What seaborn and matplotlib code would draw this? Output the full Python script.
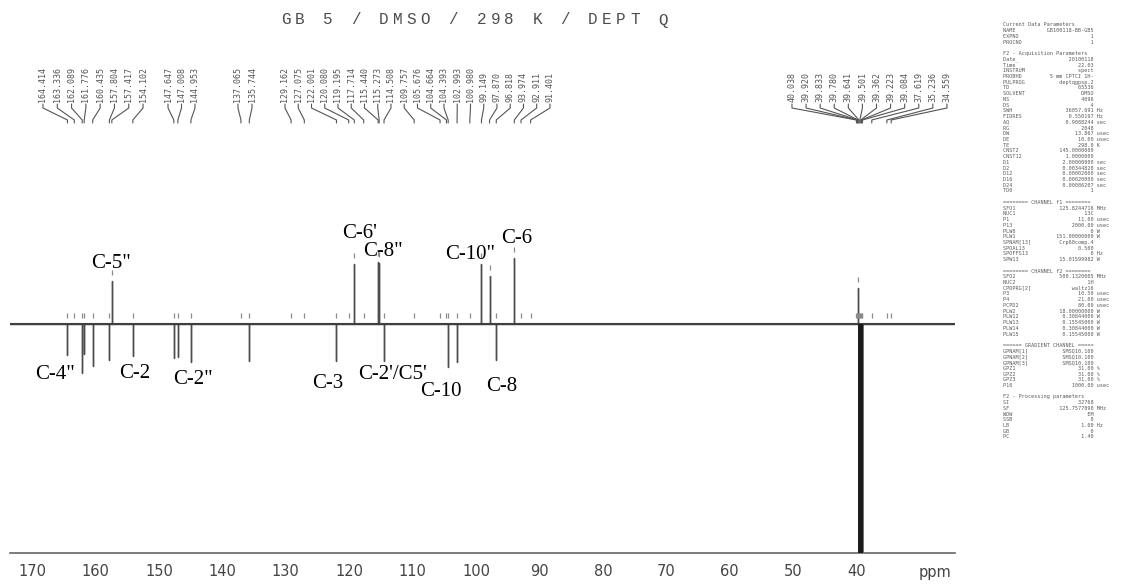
import numpy as np
import matplotlib
matplotlib.use('Agg')
import matplotlib.pyplot as plt
import seaborn as sns

sns.set_style('white')
plt.rcParams['font.family'] = ['DejaVu Sans']

# === Data: peak picking list (ppm) printed above the spectrum ===
peak_list = [164.414, 163.336, 162.089, 161.776, 160.435, 157.804, 157.417, 154.102,
             147.647, 147.008, 144.953,
             137.065, 135.744,
             129.162, 127.075, 122.001, 120.080, 119.195, 117.714, 115.440, 115.273,
             114.508, 109.757, 105.676, 104.664, 104.393, 102.993, 100.980, 99.149,
             97.870, 96.818, 93.974, 92.911, 91.401,
             40.038, 39.920, 39.833, 39.780, 39.641, 39.501, 39.362, 39.223, 39.084,
             37.619, 35.236, 34.559]
# signal intensity (up = CH/CH3, down = C/CH2, 0 = picked only)
peak_height = [-31, 0, -49, -30, -42, -36, 43, -32,
               -34, -33, -38,
               0, -37,
               0, 0, -37, 0, 60, 0, 62, 61,
               -37, 0, 0, 0, -43, -38, 0, 60,
               48, -36, 66, 0, 0,
               0, 0, 0, 36, -229, -229, -229, -229, -229,
               0, 0, 0]
label_groups = [8, 3, 2, 21, 12]
label_group_span = [(168.27, 152.50), (148.56, 144.31), (137.53, 135.32),
                    (130.12, 88.35), (50.20, 25.77)]

# carbon assignments
carbon_names = ['C-5"', 'C-4"', 'C-2', 'C-2"', 'C-3', "C-2'/C5'", 'C-10', 'C-8',
                "C-6'", 'C-8"', 'C-10"', 'C-6']
carbon_ppm = [157.55, 166.3, 153.76, 144.62, 123.42, 113.18, 105.56, 95.96,
              118.30, 114.63, 100.96, 93.6]
carbon_y = [56, -55, -54, -60, -64, -55, -72, -67, 86, 68, 65, 81]

ppm_ticks = np.arange(170, 29, -10)
title = 'GB 5 / DMSO / 298 K / DEPT Q'

params = [
    'Current Data Parameters', ('NAME', 'GB100118-BB-GB5', ''), ('EXPNO', '1', ''),
    ('PROCNO', '1', ''), '',
    'F2 - Acquisition Parameters', ('Date_', '20100118', ''), ('Time', '22.03', ''),
    ('INSTRUM', 'spect', ''), ('PROBHD', '5 mm CPTCI 1H-', ''), ('PULPROG', 'deptqgpsp.2', ''),
    ('TD', '65536', ''), ('SOLVENT', 'DMSO', ''), ('NS', '4096', ''), ('DS', '4', ''),
    ('SWH', '36057.691', 'Hz'), ('FIDRES', '0.550197', 'Hz'), ('AQ', '0.9088244', 'sec'),
    ('RG', '2048', ''), ('DW', '13.867', 'usec'), ('DE', '10.00', 'usec'),
    ('TE', '298.0', 'K'), ('CNST2', '145.0000000', ''), ('CNST12', '1.0000000', ''),
    ('D1', '2.00000000', 'sec'), ('D2', '0.00344828', 'sec'), ('D12', '0.00002000', 'sec'),
    ('D16', '0.00020000', 'sec'), ('D24', '0.00086207', 'sec'), ('TD0', '1', ''), '',
    '======== CHANNEL f1 ========', ('SFO1', '125.8244716', 'MHz'), ('NUC1', '13C', ''),
    ('P1', '11.00', 'usec'), ('P13', '2000.00', 'usec'), ('PLW0', '0', 'W'),
    ('PLW1', '151.00000000', 'W'), ('SPNAM[13]', 'Crp60comp.4', ''), ('SPOAL13', '0.500', ''),
    ('SPOFFS13', '0', 'Hz'), ('SPW13', '15.01599982', 'W'), '',
    '======== CHANNEL f2 ========', ('SFO2', '500.1320005', 'MHz'), ('NUC2', '1H', ''),
    ('CPDPRG[2]', 'waltz16', ''), ('P3', '10.50', 'usec'), ('P4', '21.00', 'usec'),
    ('PCPD2', '80.00', 'usec'), ('PLW2', '18.00000000', 'W'), ('PLW12', '0.30844000', 'W'),
    ('PLW13', '0.15545000', 'W'), ('PLW14', '0.30844000', 'W'), ('PLW15', '0.15545000', 'W'), '',
    '====== GRADIENT CHANNEL =====', ('GPNAM[1]', 'SMSQ10.100', ''), ('GPNAM[2]', 'SMSQ10.100', ''),
    ('GPNAM[3]', 'SMSQ10.100', ''), ('GPZ1', '31.00', '%'), ('GPZ2', '31.00', '%'),
    ('GPZ3', '31.00', '%'), ('P16', '1000.00', 'usec'), '',
    'F2 - Processing parameters', ('SI', '32768', ''), ('SF', '125.7577890', 'MHz'),
    ('WDW', 'EM', ''), ('SSB', '0', ''), ('LB', '1.00', 'Hz'), ('GB', '0', ''), ('PC', '1.40', ''),
]

# === Figure ===
W, H = 1139, 584
fig = plt.figure(figsize=(W / 100, H / 100), dpi=100)
ax = fig.add_axes([10 / W, 31 / H, 945 / W, 553 / H])
x_left, x_right = 173.47, 24.5

# spectrum trace: baseline with one stick per signal
xs, ys = [x_left], [0]
for p, h in sorted(zip(peak_list, peak_height), reverse=True):
    if h != 0:
        xs += [p, p, p]
        ys += [0, h, 0]
xs.append(x_right)
ys.append(0)
sns.lineplot(x=xs, y=ys, sort=False, estimator=None, color='#4d4d4d', lw=1.0, ax=ax)
ax.axhline(0, color='#3f3f3f', lw=1.5, zorder=3)

# solvent (DMSO-d6) signal drawn heavier, as in the scan
solv = [p for p, h in zip(peak_list, peak_height) if h < -100]
ax.vlines(solv, min(peak_height), 0, color='#1a1a1a', lw=1.4, zorder=4)

# peak picking markers
heights = np.array(peak_height)
mk = np.where(heights > 0, heights, 0) + 6
ax.vlines(peak_list, mk, mk + 5, color='#8a8a8a', lw=0.9)

# peak list labels and connectors
pos = 0
for n, (a, b) in zip(label_groups, label_group_span):
    for lx, p in zip(np.linspace(a, b, n), peak_list[pos:pos + n]):
        ax.text(lx, 222, f'{p:.3f}', rotation=90, ha='center', va='bottom',
                fontsize=6, family='DejaVu Sans Mono', color='#555555')
        ax.plot([lx, lx, p, p], [220, 216, 204, 201], color='#555555', lw=0.8)
    pos += n

# carbon assignments
for name, p, y in zip(carbon_names, carbon_ppm, carbon_y):
    ax.text(p, y, name, ha='center', va='baseline', fontsize=15,
            family='Liberation Serif', color='black', zorder=5)

ax.set_xlim(x_left, x_right)
ax.set_ylim(-229, 324)
ax.set_yticks([])
ax.set_xticks(ppm_ticks)
ax.set_xticklabels([str(t) if t >= 40 else '' for t in ppm_ticks])
ax.set_xticks(np.arange(173, 24, -1), minor=True)
ax.tick_params(axis='x', which='major', length=4, width=1, color='#666666', direction='out',
               labelsize=10.5, labelcolor='#444444', pad=4)
ax.tick_params(axis='x', which='minor', length=2.5, width=0.8, color='#777777', direction='in')
for s in ['top', 'left', 'right']:
    ax.spines[s].set_visible(False)
ax.spines['bottom'].set_color('#666666')
ax.spines['bottom'].set_linewidth(1.2)
ax.set_xlabel('')
ax.set_ylabel('')

fig.text(935 / W, 1 - 572 / H, 'ppm', ha='center', va='center', fontsize=10.5, color='#444444')

# title, typewriter style with wide letter spacing
for i, ch in enumerate(title):
    fig.text((286 + i * 13.95) / W, 1 - 20 / H, ch, ha='center', va='center',
             family='Liberation Mono', fontsize=11.5, color='#4d4d4d')

# acquisition parameter block
step = (437 - 25) / (len(params) - 1)
for i, line in enumerate(params):
    if isinstance(line, tuple):
        k, v, u = line
        line = f'{k:<10}{v:>19} {u}'
    fig.text(1003 / W, 1 - (25 + i * step) / H, line, ha='left', va='center',
             family='DejaVu Sans Mono', fontsize=3.7, color='#5a5a5a')

fig.savefig('out.png', dpi=100)
